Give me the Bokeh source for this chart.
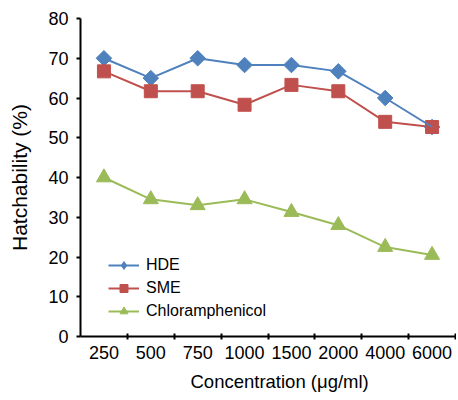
import numpy as np
from bokeh.plotting import figure
from bokeh.models import Range1d, FixedTicker, Legend, LegendItem, Title
from bokeh.embed import file_html
from bokeh.resources import INLINE

categories = ["250", "500", "750", "1000", "1500", "2000", "4000", "6000"]
hde = [70, 65, 70, 68.3, 68.3, 66.7, 60, 52.7]
sme = [66.7, 61.7, 61.7, 58.3, 63.3, 61.7, 54, 52.7]
chloro = [40, 34.5, 33, 34.5, 31.3, 28, 22.5, 20.5]
y_ticks = [0, 10, 20, 30, 40, 50, 60, 70, 80]

xs = [i + 0.5 for i in range(len(categories))]
bounds = [i for i in range(1, len(categories) + 1)]

FONT = "Liberation Sans"

p = figure(width=456, height=398, output_backend="svg", toolbar_location=None,
           x_range=Range1d(0, len(categories)), y_range=Range1d(0, 80),
           min_border_left=80, min_border_right=1, min_border_top=18, min_border_bottom=62)
p.outline_line_color = None
p.xgrid.grid_line_color = None
p.ygrid.grid_line_color = None
p.background_fill_color = "white"
p.border_fill_color = "white"

# x axis
xa = p.xaxis[0]
xa.ticker = FixedTicker(ticks=xs, minor_ticks=bounds)
xa.major_label_overrides = {x: c for x, c in zip(xs, categories)}
xa.major_tick_line_color = None
xa.major_tick_in = 0
xa.major_tick_out = 0
xa.minor_tick_in = 3
xa.minor_tick_out = 3
xa.minor_tick_line_color = "black"
xa.minor_tick_line_width = 2
xa.axis_line_width = 2
xa.axis_line_color = "black"
xa.major_label_standoff = 6
xa.major_label_text_font = FONT
xa.major_label_text_font_size = "18px"
xa.major_label_text_color = "black"

xtitle = Title(text="Concentration (\u03bcg/ml)", align="left", offset=110,
               text_font=FONT, text_font_size="18.5px", text_font_style="normal",
               text_color="black", standoff=14)
p.add_layout(xtitle, "below")

# y axis
ya = p.yaxis[0]
ya.ticker = FixedTicker(ticks=y_ticks, minor_ticks=[])
ya.major_tick_in = 0
ya.major_tick_out = 4
ya.major_tick_line_width = 2
ya.axis_line_width = 2
ya.axis_line_color = "black"
ya.major_label_standoff = 8
ya.major_label_text_font = FONT
ya.major_label_text_font_size = "18px"
ya.major_label_text_color = "black"
ya.axis_label = "Hatchability (%)"
ya.axis_label_text_font = FONT
ya.axis_label_text_font_size = "21px"
ya.axis_label_text_font_style = "normal"
ya.axis_label_standoff = 14
ya.axis_label_text_color = "black"

blue = "#4F81BD"
red = "#C0504D"
green = "#9BBB59"

l3 = p.line(xs, chloro, line_color=green, line_width=2)
m3 = p.scatter(xs, chloro, marker="triangle", size=15, fill_color=green, line_color=green)
l2 = p.line(xs, sme, line_color=red, line_width=2)
d1 = p.scatter(xs, hde, marker="diamond", size=12, fill_color=blue, line_color=blue)
m1 = p.scatter(xs, hde, marker="square", angle=np.pi / 4, size=11, fill_color=blue, line_color=blue)
m2 = p.scatter(xs, sme, marker="square", size=13, fill_color=red, line_color=red)
l1 = p.line(xs, hde, line_color=blue, line_width=2)

legend = Legend(items=[
    LegendItem(label="HDE", renderers=[l1, d1]),
    LegendItem(label="SME", renderers=[l2, m2]),
    LegendItem(label="Chloramphenicol", renderers=[l3, m3]),
], location=(28, 15))
legend.background_fill_alpha = 0
legend.border_line_color = None
legend.padding = 0
legend.margin = 0
legend.spacing = 3
legend.glyph_width = 31
legend.glyph_height = 20
legend.label_height = 20
legend.label_standoff = 7
legend.label_text_font = FONT
legend.label_text_font_size = "16px"
legend.label_text_color = "black"
p.add_layout(legend, "center")

open("out.html", "w").write(file_html(p, INLINE))
